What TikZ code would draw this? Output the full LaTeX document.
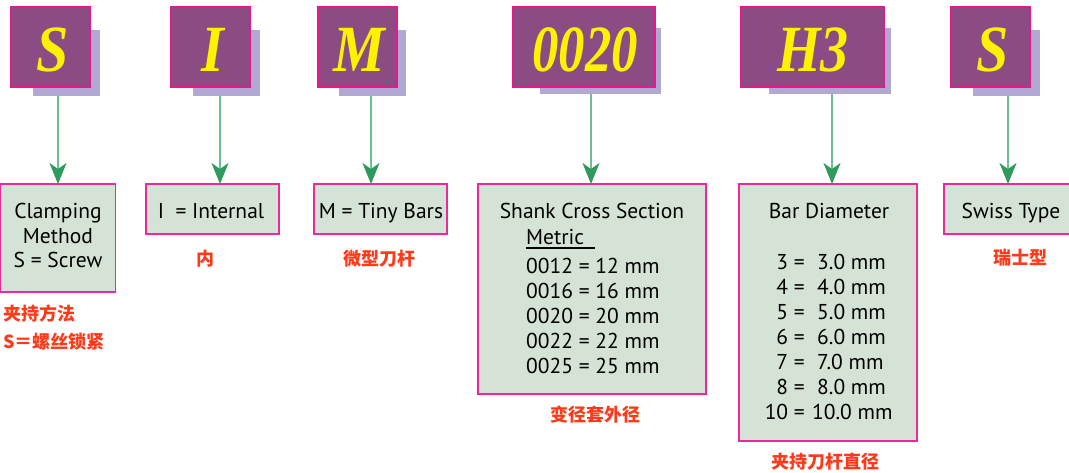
\documentclass[tikz,border=0pt]{standalone}
\usepackage{fontspec}
\setmainfont{PT Sans}
\newfontfamily\cjk{Noto Sans CJK SC}
\newfontfamily\tms{Liberation Serif}
\usetikzlibrary{arrows.meta}
\definecolor{plum}{HTML}{8A4C82}
\definecolor{magentab}{HTML}{E6198C}
\definecolor{shadowc}{HTML}{B1A9D3}
\definecolor{paleg}{HTML}{D5E3D6}
\definecolor{pinkb}{HTML}{F0289C}
\definecolor{yel}{HTML}{FFF200}
\definecolor{lineg}{HTML}{6CBF93}
\definecolor{headg}{HTML}{2E9A5E}
\definecolor{redlab}{HTML}{FF3A1A}
\begin{document}
\begin{tikzpicture}[x=1pt,y=-1pt,
  shadowbox/.style={fill=shadowc,draw=none,anchor=north west,inner sep=0pt,outer sep=0pt},
  codebox/.style={fill=plum,draw=magentab,line width=1.3pt,anchor=north west,inner sep=0pt,outer sep=0pt},
  descbox/.style={fill=paleg,draw=pinkb,line width=1.2pt,anchor=north west,inner sep=0pt,outer sep=0pt},
  letter/.style={text=yel,font=\tms\bfseries\itshape\fontsize{66}{66}\selectfont,anchor=base,inner sep=0pt},
  txt/.style={font=\fontsize{21.5}{21.5}\selectfont,inner sep=0pt,text=black},
  cn/.style={font=\cjk\bfseries\fontsize{18}{18}\selectfont,text=redlab,inner sep=0pt},
  arr/.style={draw=lineg,line width=1.5pt,-{Stealth[length=21pt,width=17pt,inset=6pt,color=headg]}}]
\useasboundingbox (0,0) rectangle (1069,472);
\fill[white] (0,0) rectangle (1069,472);
% shadows
\node[shadowbox,minimum width=67pt,minimum height=66pt] (shA) at (33,30) {};
\node[shadowbox,minimum width=67pt,minimum height=66pt] (shB) at (193,30) {};
\node[shadowbox,minimum width=67pt,minimum height=66pt] (shC) at (339,30) {};
\node[shadowbox,minimum width=121pt,minimum height=66pt] (shD) at (540,28) {};
\node[shadowbox,minimum width=122pt,minimum height=66pt] (shE) at (769,28) {};
\node[shadowbox,minimum width=67pt,minimum height=66pt] (shF) at (973,30) {};
% code boxes
\node[codebox,minimum width=79pt,minimum height=80pt] (cA) at (11,7) {};
\node[codebox,minimum width=79pt,minimum height=80pt] (cB) at (171,7) {};
\node[codebox,minimum width=79pt,minimum height=80pt] (cC) at (318,7) {};
\node[codebox,minimum width=142pt,minimum height=80pt] (cD) at (513,7) {};
\node[codebox,minimum width=143pt,minimum height=80pt] (cE) at (741,7) {};
\node[codebox,minimum width=79pt,minimum height=80pt] (cF) at (951,7) {};
\node[letter] (lA) at (52.5,71) {\scalebox{0.88}[1]{S}};
\node[letter] (lB) at (212.5,71) {\scalebox{0.88}[1]{I}};
\node[letter] (lC) at (359.5,71) {\scalebox{0.88}[1]{M}};
\node[letter] (lD) at (585,71) {\scalebox{0.8}[1]{0020}};
\node[letter] (lE) at (813,71) {\scalebox{0.85}[1]{H3}};
\node[letter] (lF) at (992.5,71) {\scalebox{0.88}[1]{S}};
% description boxes
\node[descbox,minimum width=115pt,minimum height=108pt] (clamp) at (0.8,184) {};
\node[descbox,minimum width=133pt,minimum height=50pt] (intern) at (146,184) {};
\node[descbox,minimum width=133pt,minimum height=50pt] (tiny) at (314,184) {};
\node[descbox,minimum width=228pt,minimum height=210pt] (shank) at (478,184) {};
\node[descbox,minimum width=178pt,minimum height=257pt] (bar) at (739,184) {};
\node[descbox,minimum width=135pt,minimum height=50pt] (swiss) at (944,184) {};
% arrows
\coordinate (aA) at (58,96);
\coordinate (aB) at (220,96);
\coordinate (aC) at (371,96);
\coordinate (aD) at (591,94);
\coordinate (aE) at (832,94);
\coordinate (aF) at (1008,96);
\draw[arr] (aA) -- (aA |- clamp.north);
\draw[arr] (aB) -- (aB |- intern.north);
\draw[arr] (aC) -- (aC |- tiny.north);
\draw[arr] (aD) -- (aD |- shank.north);
\draw[arr] (aE) -- (aE |- bar.north);
\draw[arr] (aF) -- (aF |- swiss.north);
% clamp text
\node[txt,anchor=base] (t1) at (58,218) {Clamping};
\node[txt,anchor=base] (t2) at (58,243) {Method};
\node[txt,anchor=base] (t3) at (58,267) {S = Screw};
\node[cn,anchor=west] (c1) at (3,314) {夹持方法};
\node[cn,anchor=west] (c2) at (3,342) {S＝螺丝锁紧};
% internal
\node[txt,anchor=base] (t4) at (211,218) {I\ \ = Internal};
\node[cn] (c3) at (205,259) {内};
% tiny
\node[txt,anchor=base] (t5) at (381,218) {M = Tiny Bars};
\node[cn] (c4) at (379,259) {微型刀杆};
% shank
\node[txt,anchor=base] (t6) at (592,218) {Shank Cross Section};
\node[txt,anchor=base west] (metric) at (526,244) {Metric};
\draw[line width=1.2pt,black] ([yshift=-4pt]metric.base west) -- ++(69,0);
\foreach \a/\b [count=\i] in {0012/12,0016/16,0020/20,0022/22,0025/25}{
  \node[txt,anchor=base west] (sh\i) at (526,248+25*\i) {\a\ = \b\ mm};
}
\node[cn] (c5) at (595,415) {变径套外径};
% bar
\node[txt,anchor=base] (t7) at (829,218) {Bar Diameter};
\foreach \n/\v/\rx [count=\i] in {3/3.0/817,4/4.0/817,5/5.0/817,6/6.0/817,7/7.0/817,8/8.0/817,10/10.0/812}{
  \node[txt,anchor=base east] (bl\i) at (805,244+25*\i) {\n\ =};
  \node[txt,anchor=base west] (br\i) at (\rx,244+25*\i) {\v\ mm};
}
\node[cn] (c6) at (825,462) {夹持刀杆直径};
% swiss
\node[txt,anchor=base] (t8) at (1011,218) {Swiss Type};
\node[cn] (c7) at (1020,258) {瑞士型};
\end{tikzpicture}
\end{document}
